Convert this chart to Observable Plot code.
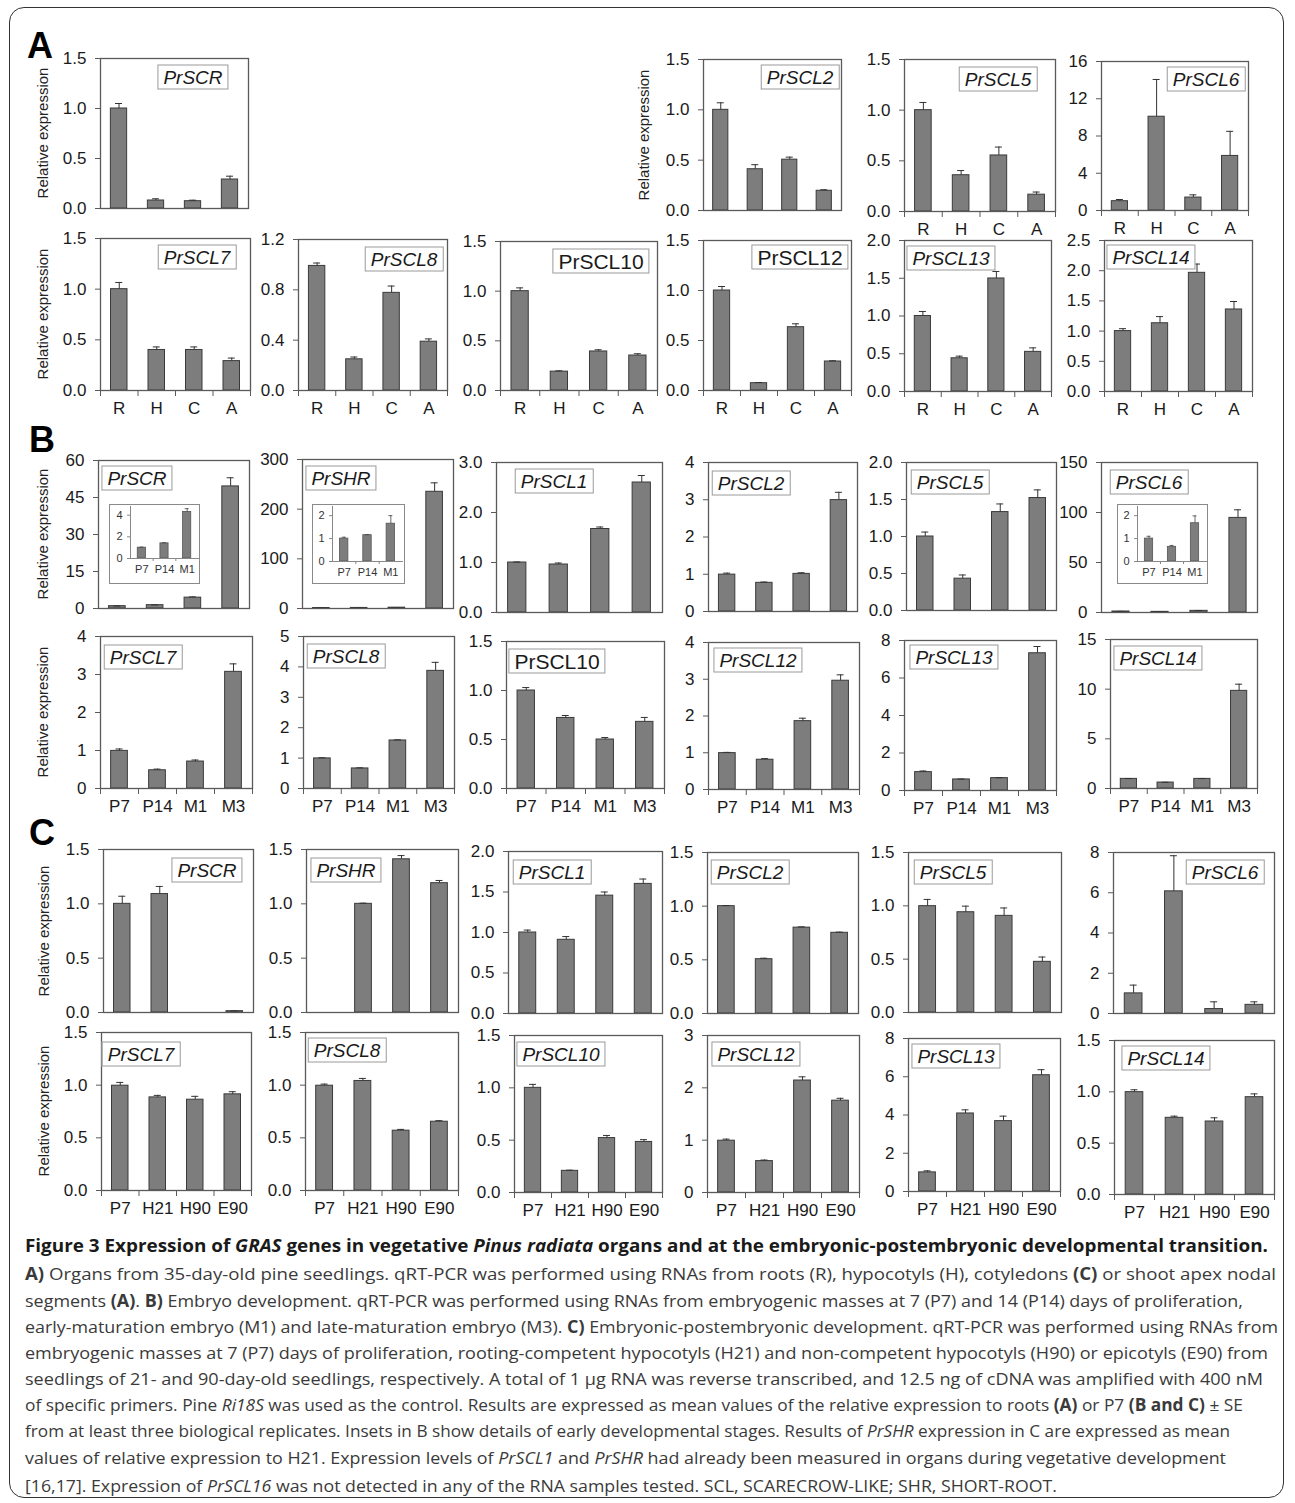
<!DOCTYPE html>
<html><head><meta charset="utf-8">
<script src="https://cdn.jsdelivr.net/npm/d3@7"></script>
<script src="https://cdn.jsdelivr.net/npm/@observablehq/plot@0.6"></script>
<style>
body{margin:0;background:#fff;}
#page{position:relative;width:1295px;height:1503px;overflow:hidden;font-family:"Liberation Sans",Arial,sans-serif;background:#fff;}
.chart{position:absolute;overflow:visible;}
.gl{position:absolute;transform:translate(-50%,-50%);border:1px solid #9a9a9a;background:#fff;padding:0 5px;font-size:19px;line-height:23px;white-space:nowrap;color:#1a1a1a;font-style:italic;}
.gl.up{font-style:normal;font-size:21px;}
.yt{position:absolute;transform:translate(-50%,-50%) rotate(-90deg);font-size:15px;white-space:nowrap;color:#222;}
.sec{position:absolute;font-weight:bold;font-size:36px;line-height:1;color:#000;}
.ibox{position:absolute;border:1.5px solid #8a8a8a;background:#fff;box-sizing:border-box;}
#border{position:absolute;left:9px;top:7px;width:1275px;height:1491px;border:1.5px solid #333;border-radius:15px;box-sizing:border-box;}
#cap{position:absolute;left:0;top:1225px;}
</style></head><body><div id="page"><div id="border"></div></div>
<script>
// ---------- DATA ----------
const catsA = ["R", "H", "C", "A"];
const genesA = ["PrSCR","PrSCL2","PrSCL5","PrSCL6","PrSCL7","PrSCL8","PrSCL10","PrSCL12","PrSCL13","PrSCL14"];
const meanA = [
  [1.00, 0.08, 0.073, 0.29],
  [1.00, 0.41, 0.505, 0.196],
  [1.00, 0.358, 0.553, 0.166],
  [1.0, 10.07, 1.39, 5.86],
  [1.0, 0.40, 0.40, 0.29],
  [0.99, 0.248, 0.776, 0.388],
  [1.0, 0.19, 0.393, 0.352],
  [1.0, 0.073, 0.633, 0.29],
  [1.0, 0.44, 1.497, 0.525],
  [1.0, 1.13, 1.965, 1.358]
];
const seA = [
  [0.05, 0.017, 0.01, 0.033],
  [0.07, 0.045, 0.025, 0.01],
  [0.076, 0.046, 0.083, 0.026],
  [0.18, 4.0, 0.29, 2.64],
  [0.066, 0.03, 0.03, 0.03],
  [0.023, 0.018, 0.054, 0.022],
  [0.033, 0.008, 0.017, 0.018],
  [0.04, 0.007, 0.034, 0.007],
  [0.06, 0.028, 0.093, 0.053],
  [0.04, 0.11, 0.145, 0.132]
];
const yMaxA = [1.5, 1.5, 1.5, 16, 1.5, 1.2, 1.5, 1.5, 2, 2.5];
const yStepA = [0.5, 0.5, 0.5, 4, 0.5, 0.4, 0.5, 0.5, 0.5, 0.5];
const yDecA = [1, 1, 1, 0, 1, 1, 1, 1, 1, 1];

const catsB = ["P7", "P14", "M1", "M3"];
const genesB = ["PrSCR","PrSHR","PrSCL1","PrSCL2","PrSCL5","PrSCL6","PrSCL7","PrSCL8","PrSCL10","PrSCL12","PrSCL13","PrSCL14"];
const meanB = [
  [0.95, 1.35, 4.4, 49.5],
  [1.0, 1.15, 1.65, 235],
  [1.0, 0.96, 1.67, 2.6],
  [0.99, 0.77, 1.01, 2.99],
  [1.0, 0.43, 1.33, 1.52],
  [1.0, 0.65, 1.67, 94.6],
  [0.99, 0.48, 0.71, 3.07],
  [0.99, 0.66, 1.58, 3.87],
  [1.0, 0.72, 0.50, 0.68],
  [0.99, 0.81, 1.86, 2.96],
  [0.98, 0.59, 0.66, 7.32],
  [0.97, 0.6, 0.97, 9.83]
];
const seB = [
  [0.05, 0.1, 0.3, 3.5],
  [0.06, 0.02, 0.35, 18],
  [0.01, 0.03, 0.04, 0.14],
  [0.04, 0.02, 0.03, 0.21],
  [0.06, 0.05, 0.11, 0.11],
  [0.1, 0.05, 0.32, 8.1],
  [0.05, 0.03, 0.04, 0.21],
  [0.02, 0.02, 0.02, 0.28],
  [0.03, 0.025, 0.02, 0.045],
  [0.02, 0.03, 0.08, 0.16],
  [0.06, 0.02, 0.02, 0.36],
  [0.03, 0.02, 0.03, 0.67]
];
const yMaxB = [60, 300, 3, 4, 2, 150, 4, 5, 1.5, 4, 8, 15];
const yStepB = [15, 100, 1, 1, 0.5, 50, 1, 1, 0.5, 1, 2, 5];
const yDecB = [0, 0, 1, 0, 1, 0, 0, 0, 1, 0, 0, 0];

const insetCatsB = ["P7", "P14", "M1"];
const insetGenesB = ["PrSCR", "PrSHR", "PrSCL6"];
const insetMeanB = [[1.0, 1.4, 4.3], [1.0, 1.15, 1.65], [1.0, 0.64, 1.67]];
const insetSeB = [[0.05, 0.05, 0.3], [0.06, 0.02, 0.35], [0.1, 0.06, 0.32]];
const insetYMaxB = [4.8, 2.4, 2.4];
const insetYStepB = [2, 1, 1];

const catsC = ["P7", "H21", "H90", "E90"];
const genesC = ["PrSCR","PrSHR","PrSCL1","PrSCL2","PrSCL5","PrSCL6","PrSCL7","PrSCL8","PrSCL10","PrSCL12","PrSCL13","PrSCL14"];
const meanC = [
  [1.0, 1.09, 0, 0.012],
  [0, 1.0, 1.41, 1.19],
  [1.0, 0.91, 1.455, 1.6],
  [1.0, 0.506, 0.80, 0.752],
  [0.997, 0.94, 0.906, 0.475],
  [1.0, 6.07, 0.22, 0.43],
  [0.995, 0.884, 0.862, 0.913],
  [0.995, 1.04, 0.568, 0.653],
  [1.0, 0.207, 0.52, 0.483],
  [0.99, 0.60, 2.14, 1.755],
  [1.0, 4.08, 3.68, 6.08],
  [0.997, 0.747, 0.711, 0.948]
];
const seC = [
  [0.07, 0.07, 0, 0.003],
  [0, 0.006, 0.034, 0.025],
  [0.03, 0.04, 0.045, 0.06],
  [0.006, 0.009, 0.007, 0.006],
  [0.063, 0.057, 0.074, 0.045],
  [0.41, 1.77, 0.36, 0.15],
  [0.031, 0.019, 0.032, 0.025],
  [0.015, 0.024, 0.012, 0.01],
  [0.033, 0.006, 0.025, 0.022],
  [0.03, 0.02, 0.07, 0.045],
  [0.08, 0.19, 0.26, 0.29],
  [0.023, 0.016, 0.036, 0.032]
];
const yMaxC = [1.5, 1.5, 2, 1.5, 1.5, 8, 1.5, 1.5, 1.5, 3, 8, 1.5];
const yStepC = [0.5, 0.5, 0.5, 0.5, 0.5, 2, 0.5, 0.5, 0.5, 1, 2, 0.5];
const yDecC = [1, 1, 1, 1, 1, 0, 1, 1, 1, 0, 0, 1];

const yTitle = "Relative expression";

// ---------- LAYOUT (positions / styles) ----------
const layoutA = [
  {f:[100,58,248,208], lab:[193,77], yt:42},
  {f:[703,59,841,210], lab:[800,77], yt:643},
  {f:[904,59,1055,211], lab:[998,79], xl:1, xt:1},
  {f:[1101,61,1248,210], lab:[1206,79], xl:1, xt:1},
  {f:[100,238,250,390], lab:[197,257], yt:42, xl:1, xt:1},
  {f:[298,239,447,390], lab:[404,259], xl:1, xt:1},
  {f:[500,241,657,390], lab:[601,261], up:1, xl:1, xt:1},
  {f:[703,240,851,390], lab:[800,257], up:1, xl:1, xt:1},
  {f:[904,240,1051,391], lab:[951,258], xl:1, xt:1},
  {f:[1104,240,1252,391], lab:[1151,257], xl:1, xt:1}
];
const layoutB = [
  {f:[98,460,249,608], lab:[137,478], yt:42},
  {f:[302,459,453,608], lab:[341,478]},
  {f:[496,462,662,612], lab:[554,481]},
  {f:[708,462,857,611], lab:[751,483]},
  {f:[906,462,1056,610], lab:[950,482]},
  {f:[1101,462,1257,612], lab:[1149,482]},
  {f:[100,636,252,788], lab:[143,657], yt:42, xl:1, xt:1},
  {f:[303,636,454,788], lab:[346,656], xl:1, xt:1},
  {f:[506,641,664,788], lab:[557,661], up:1, xl:1, xt:1},
  {f:[708,642,859,789], lab:[758,660], xl:1, xt:1},
  {f:[904,640,1056,790], lab:[954,657], xl:1, xt:1},
  {f:[1110,639,1257,788], lab:[1158,658], xl:1, xt:1}
];
const insetLayoutB = [
  {box:[109,504,200,584], p:[130,506,198,558]},
  {box:[312,504,405,584], p:[332,506,402,561]},
  {box:[1117,504,1208,584], p:[1137,506,1206,561]}
];
const layoutC = [
  {f:[103,849,253,1012], lab:[207,870], yt:43},
  {f:[306,849,458,1012], lab:[346,870]},
  {f:[508,851,662,1013], lab:[552,872]},
  {f:[707,852,858,1013], lab:[750,872]},
  {f:[908,852,1061,1012], lab:[953,872]},
  {f:[1113,852,1274,1013], lab:[1225,872]},
  {f:[101,1032,251,1190], lab:[141,1054], yt:43, xl:1, xt:1},
  {f:[305,1032,458,1190], lab:[347,1050], xl:1, xt:1},
  {f:[514,1035,662,1192], lab:[561,1054], xl:1, xt:1},
  {f:[707,1035,859,1192], lab:[756,1054], xl:1, xt:1},
  {f:[908,1038,1060,1191], lab:[956,1056], xl:1, xt:1},
  {f:[1114,1040,1274,1194], lab:[1166,1058], xl:1, xt:1}
];

const page = document.getElementById("page");
const AX = "#5a5a5a";
const mL = 52, mR = 8, mT = 14, mB = 38;

function place(el, left, top) {
  el.style.position = "absolute";
  el.style.left = left + "px";
  el.style.top = top + "px";
  page.appendChild(el);
}

function drawChart(s, gene, cats, mean, se, yMax, yStep, yDec) {
  const [l, t, r, b] = s.f;
  const W = r - l, H = b - t;
  const data = cats.map((c, i) => ({c, v: mean[i], hi: mean[i] + se[i]})).filter(d => d.v > 0);
  const step = W / cats.length;
  const barW = step * 0.44;
  const capIn = Math.max(0, (barW - 7) / 2);
  const ticks = d3.range(0, yMax + yStep / 2, yStep);
  const marks = [
    Plot.barY(data, {x: "c", y: "v", fill: "#7d7d7d", stroke: "#3a3a3a", strokeWidth: 1}),
    Plot.ruleX(data, {x: "c", y1: "v", y2: "hi", stroke: "#333", strokeWidth: 1}),
    Plot.tickY(data, {x: "c", y: "hi", insetLeft: capIn, insetRight: capIn, stroke: "#333", strokeWidth: 1}),
    Plot.frame({stroke: AX, strokeWidth: 1.3}),
    Plot.axisY(ticks, {tickSize: 5, tickPadding: 9, tickFormat: d3.format("." + yDec + "f"), stroke: AX, fontSize: 17, label: null})
  ];
  if (s.xt) {
    marks.push(Plot.axisX(cats, {tickSize: 6, dx: -step / 2, tickFormat: () => "", stroke: AX, label: null}));
    marks.push(Plot.axisX([cats[cats.length - 1]], {tickSize: 6, dx: step / 2, tickFormat: () => "", stroke: AX, label: null}));
  }
  if (s.xl) marks.push(Plot.axisX(cats, {tickSize: 0, tickPadding: 11, fontSize: 17, label: null}));
  const svg = Plot.plot({
    width: W + mL + mR, height: H + mT + mB,
    marginLeft: mL, marginRight: mR, marginTop: mT, marginBottom: mB,
    x: {type: "band", domain: cats, paddingInner: 0.56, paddingOuter: 0.28, round: false, axis: null, label: null},
    y: {domain: [0, yMax], axis: null, label: null},
    marks,
    style: {fontFamily: "'Liberation Sans', Arial, sans-serif", fontSize: "17px", color: "#1a1a1a", background: "transparent", overflow: "visible"}
  });
  svg.classList.add("chart");
  place(svg, l - mL, t - mT);
  const g = document.createElement("div");
  g.className = "gl" + (s.up ? " up" : "");
  g.textContent = gene;
  place(g, s.lab[0], s.lab[1]);
  if (s.yt) {
    const y = document.createElement("div");
    y.className = "yt";
    y.textContent = yTitle;
    place(y, s.yt, (t + b) / 2);
  }
}

function drawInset(s, cats, mean, se, yMax, yStep) {
  const [bl, bt, br, bb] = s.box;
  const [pl, pt, pr, pb] = s.p;
  const box = document.createElement("div");
  box.className = "ibox";
  box.style.width = (br - bl) + "px";
  box.style.height = (bb - bt) + "px";
  place(box, bl, bt);
  const data = cats.map((c, i) => ({c, v: mean[i], hi: mean[i] + se[i]}));
  const step = (pr - pl) / cats.length;
  const barW = step * 0.36;
  const capIn = Math.max(0, (barW - 4) / 2);
  const ticks = d3.range(0, yMax, yStep);
  const svg = Plot.plot({
    width: br - bl, height: bb - bt,
    marginLeft: pl - bl, marginRight: br - pr, marginTop: pt - bt, marginBottom: bb - pb,
    x: {type: "band", domain: cats, paddingInner: 0.64, paddingOuter: 0.32, round: false, axis: null, label: null},
    y: {domain: [0, yMax], axis: null, label: null},
    marks: [
      Plot.barY(data, {x: "c", y: "v", fill: "#7d7d7d", stroke: "#555", strokeWidth: 0.8}),
      Plot.ruleX(data, {x: "c", y1: "v", y2: "hi", stroke: "#444", strokeWidth: 0.8}),
      Plot.tickY(data, {x: "c", y: "hi", insetLeft: capIn, insetRight: capIn, stroke: "#444", strokeWidth: 0.8}),
      Plot.frame({anchor: "left", stroke: "#888"}),
      Plot.frame({anchor: "bottom", stroke: "#888"}),
      Plot.axisY(ticks, {tickSize: 3, tickPadding: 5, tickFormat: d3.format(".0f"), stroke: "#888", fontSize: 11, label: null}),
      Plot.axisX(cats.slice(1), {tickSize: 3, dx: -step / 2, tickFormat: () => "", stroke: "#888", label: null}),
      Plot.axisX(cats, {tickSize: 0, tickPadding: 7, fontSize: 11, label: null})
    ],
    style: {fontFamily: "'Liberation Sans', Arial, sans-serif", fontSize: "11px", color: "#333", background: "transparent", overflow: "visible"}
  });
  svg.classList.add("chart");
  place(svg, bl, bt);
}

function secLabel(txt, x, y) {
  const d = document.createElement("div");
  d.className = "sec";
  d.textContent = txt;
  place(d, x, y);
}

secLabel("A", 27, 28);
secLabel("B", 29, 422);
secLabel("C", 29, 815);

layoutA.forEach((s, i) => drawChart(s, genesA[i], catsA, meanA[i], seA[i], yMaxA[i], yStepA[i], yDecA[i]));
layoutB.forEach((s, i) => drawChart(s, genesB[i], catsB, meanB[i], seB[i], yMaxB[i], yStepB[i], yDecB[i]));
insetLayoutB.forEach((s, i) => drawInset(s, insetCatsB, insetMeanB[i], insetSeB[i], insetYMaxB[i], insetYStepB[i]));
layoutC.forEach((s, i) => drawChart(s, genesC[i], catsC, meanC[i], seC[i], yMaxC[i], yStepC[i], yDecC[i]));

// ---------- CAPTION ----------
const capLines = [
  {y: 27, w: 1243, t: 1, html: 'Figure 3 Expression of <tspan font-style="italic">GRAS</tspan> genes in vegetative <tspan font-style="italic">Pinus radiata</tspan> organs and at the embryonic-postembryonic developmental transition.'},
  {y: 55, w: 1251, html: '<tspan font-weight="bold">A)</tspan> Organs from 35-day-old pine seedlings. qRT-PCR was performed using RNAs from roots (R), hypocotyls (H), cotyledons <tspan font-weight="bold">(C)</tspan> or shoot apex nodal'},
  {y: 82, w: 1218, html: 'segments <tspan font-weight="bold">(A)</tspan>. <tspan font-weight="bold">B)</tspan> Embryo development. qRT-PCR was performed using RNAs from embryogenic masses at 7 (P7) and 14 (P14) days of proliferation,'},
  {y: 108, w: 1253, html: 'early-maturation embryo (M1) and late-maturation embryo (M3). <tspan font-weight="bold">C)</tspan> Embryonic-postembryonic development. qRT-PCR was performed using RNAs from'},
  {y: 134, w: 1243, html: 'embryogenic masses at 7 (P7) days of proliferation, rooting-competent hypocotyls (H21) and non-competent hypocotyls (H90) or epicotyls (E90) from'},
  {y: 160, w: 1238, html: 'seedlings of 21- and 90-day-old seedlings, respectively. A total of 1 μg RNA was reverse transcribed, and 12.5 ng of cDNA was amplified with 400 nM'},
  {y: 186, w: 1218, html: 'of specific primers. Pine <tspan font-style="italic">Ri18S</tspan> was used as the control. Results are expressed as mean values of the relative expression to roots <tspan font-weight="bold">(A)</tspan> or P7 <tspan font-weight="bold">(B and C)</tspan> ± SE'},
  {y: 212, w: 1205, html: 'from at least three biological replicates. Insets in B show details of early developmental stages. Results of <tspan font-style="italic">PrSHR</tspan> expression in C are expressed as mean'},
  {y: 239, w: 1201, html: 'values of relative expression to H21. Expression levels of <tspan font-style="italic">PrSCL1</tspan> and <tspan font-style="italic">PrSHR</tspan> had already been measured in organs during vegetative development'},
  {y: 267, w: 1032, html: '[16,17]. Expression of <tspan font-style="italic">PrSCL16</tspan> was not detected in any of the RNA samples tested. SCL, SCARECROW-LIKE; SHR, SHORT-ROOT.'}
];
let capSvg = '<svg id="cap" xmlns="http://www.w3.org/2000/svg" width="1295" height="278" style="font-family:\'Open Sans\',\'Noto Sans\',sans-serif;">';
capLines.forEach(L => {
  capSvg += `<text x="25" y="${L.y}" textLength="${L.w}" lengthAdjust="spacingAndGlyphs" font-size="${L.t ? 18 : 17}" fill="${L.t ? '#1a1a1a' : '#3a3a3a'}" font-weight="${L.t ? 'bold' : 'normal'}">${L.html}</text>`;
});
capSvg += '</svg>';
page.insertAdjacentHTML("beforeend", capSvg);
</script></body></html>
